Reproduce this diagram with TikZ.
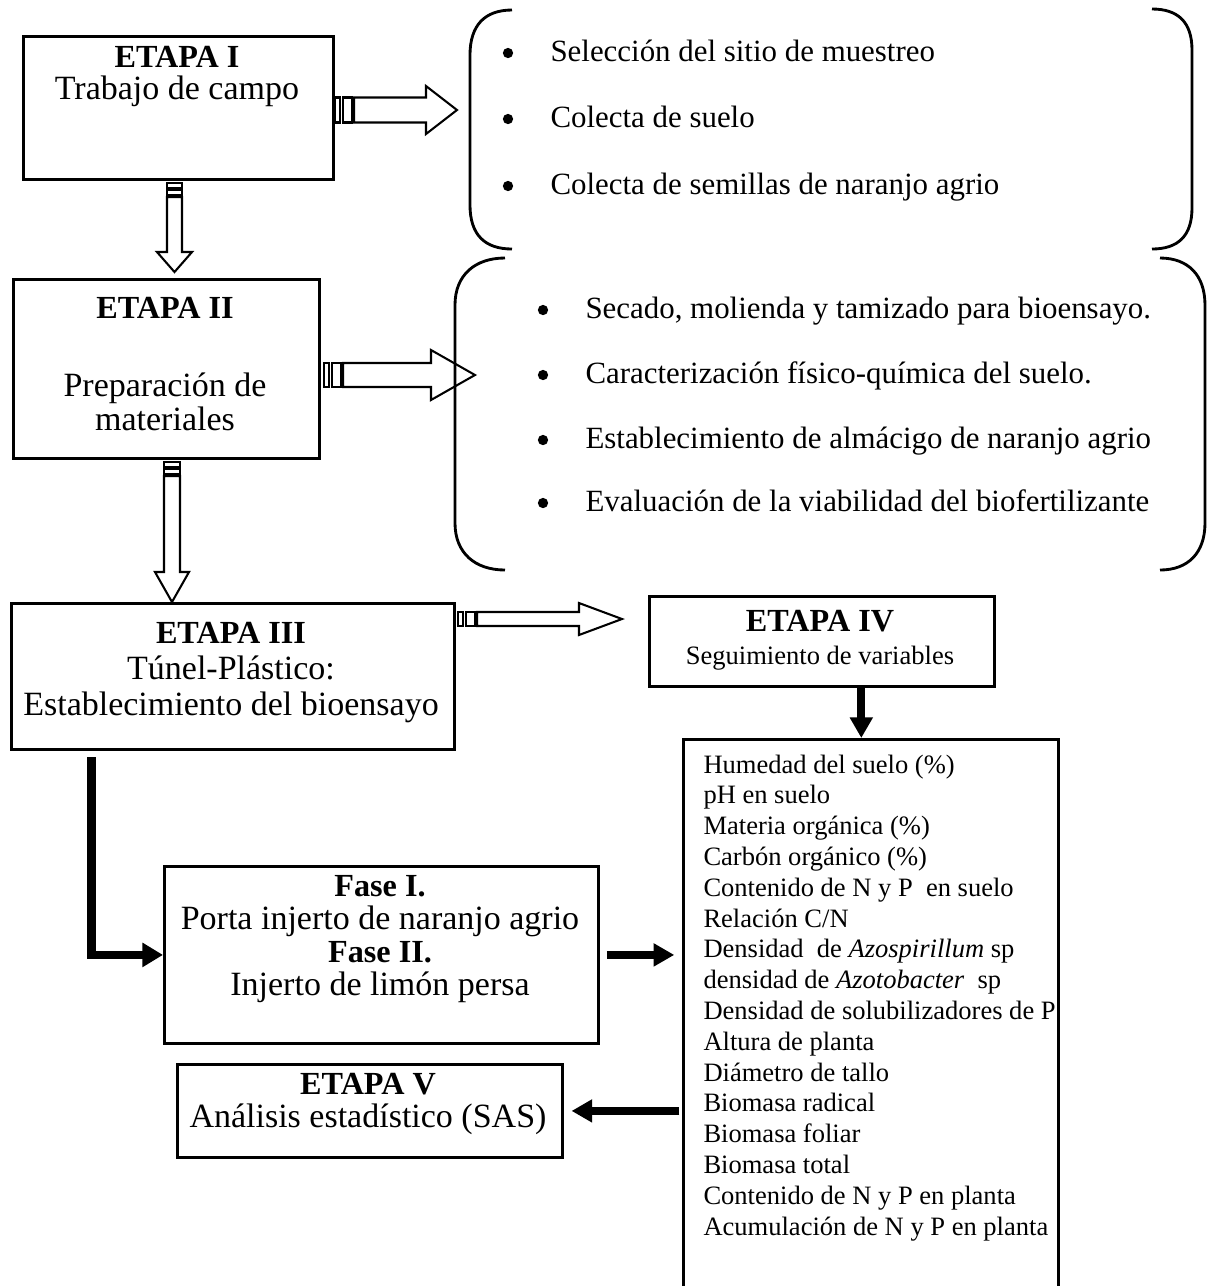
\documentclass[tikz,border=0pt]{standalone}
\usepackage{fontspec}
\setmainfont{Liberation Serif}
\usetikzlibrary{arrows.meta,calc}
\def\pxu{0.3883}
\tikzset{
  stage/.style={draw, line width=1.1pt, anchor=north west, inner sep=0pt},
  tx/.style={anchor=base, inner sep=0pt, font=\fontsize{13.2}{15}\selectfont},
  bx/.style={anchor=base, inner sep=0pt, font=\fontsize{12.5}{15}\selectfont\bfseries},
  itm/.style={anchor=base west, inner sep=0pt, font=\fontsize{12}{14}\selectfont},
  lst/.style={anchor=base west, inner sep=0pt, font=\fontsize{10.3}{12}\selectfont},
  dot/.style={circle, fill, inner sep=0pt, minimum size=4pt},
  hol/.style={draw, line width=0.8pt},
  brc/.style={draw, line width=1.1pt},
  blk/.style={line width=3pt, -{Triangle[length=8pt, width=8.5pt]}},
}
% hollow right arrow: x0, y, xtip, shaft half, head half, head length
\newcommand{\hright}[6]{%
  \draw[hol] (#1,#2-#4) rectangle (#1+5,#2+#4);
  \draw[hol] (#1+8,#2-#4) rectangle (#1+17,#2+#4);
  \draw[hol] (#1+19,#2-#4) -- (#3-#6,#2-#4) -- (#3-#6,#2-#5) -- (#3,#2)
     -- (#3-#6,#2+#5) -- (#3-#6,#2+#4) -- (#1+19,#2+#4) -- cycle;}
% hollow down arrow: x, y0, ytip, shaft half, head half, head length
\newcommand{\hdown}[6]{%
  \draw[hol] (#1-#4,#2) rectangle (#1+#4,#2+5);
  \draw[hol] (#1-#4,#2+7) rectangle (#1+#4,#2+12);
  \draw[hol] (#1-#4,#2+14) -- (#1-#4,#3-#6) -- (#1-#5,#3-#6) -- (#1,#3)
     -- (#1+#5,#3-#6) -- (#1+#4,#3-#6) -- (#1+#4,#2+14) -- cycle;}
\begin{document}
\begin{tikzpicture}[x=0.3883pt, y=-0.3883pt]
\useasboundingbox[fill=white] (0,0) rectangle (1209,1286);

% ---------- boxes
\node[stage, minimum width=310*\pxu pt, minimum height=143*\pxu pt] (e1) at (22,35) {};
\node[stage, minimum width=306*\pxu pt, minimum height=179*\pxu pt] (e2) at (12,278) {};
\node[stage, minimum width=443*\pxu pt, minimum height=146*\pxu pt] (e3) at (10,602) {};
\node[stage, minimum width=345*\pxu pt, minimum height=90*\pxu pt] (e4) at (648,595) {};
\node[stage, minimum width=375*\pxu pt, minimum height=560*\pxu pt] (lst) at (682,738) {};
\node[stage, minimum width=434*\pxu pt, minimum height=177*\pxu pt] (fase) at (163,865) {};
\node[stage, minimum width=385*\pxu pt, minimum height=93*\pxu pt] (e5) at (176,1063) {};

% ---------- box texts
\node[bx] (t11) at (177,67) {ETAPA I};
\node[tx] (t12) at (177,99) {Trabajo de campo};
\node[bx] (t21) at (165,318) {ETAPA II};
\node[tx] (t22) at (165,396) {Preparación de};
\node[tx] (t23) at (165,430) {materiales};
\node[bx] (t31) at (231,643) {ETAPA III};
\node[tx] (t32) at (231,679) {Túnel-Plástico:};
\node[tx] (t33) at (231,715) {Establecimiento del bioensayo};
\node[bx] (t41) at (820,631) {ETAPA IV};
\node[tx, font=\fontsize{10.3}{12}\selectfont] (t42) at (820,664) {Seguimiento de variables};
\node[bx] (f1) at (380,896) {Fase I.};
\node[tx] (f2) at (380,929) {Porta injerto de naranjo agrio};
\node[bx] (f3) at (380,962) {Fase II.};
\node[tx] (f4) at (380,995) {Injerto de limón persa};
\node[bx] (t51) at (368,1094) {ETAPA V};
\node[tx] (t52) at (368,1127) {Análisis estadístico (SAS)};

% ---------- variable list
\foreach \s [count=\i] in {%
  Humedad del suelo (\%),
  pH en suelo,
  Materia orgánica (\%),
  Carbón orgánico (\%),
  Contenido de N y P\ \ en suelo,
  Relación C/N,
  Densidad\ \ de \textit{Azospirillum} sp,
  densidad de \textit{Azotobacter}\ \ sp,
  Densidad de solubilizadores de P,
  Altura de planta,
  Diámetro de tallo,
  Biomasa radical,
  Biomasa foliar,
  Biomasa total,
  Contenido de N y P en planta,
  Acumulación de N y P en planta}
  \node[lst] (v\i) at (703,{773+(\i-1)*30.8}) {\s};

% ---------- brace 1
\draw[brc] (512,10) .. controls (485,10) and (470,25) .. (470,55) -- (470,205)
   .. controls (470,235) and (485,249) .. (512,249);
\draw[brc] (1152,9) .. controls (1178,9) and (1192,22) .. (1192,50) -- (1192,208)
   .. controls (1192,236) and (1178,249) .. (1152,249);
\node[dot] (d1) at (508,53) {};
\node[dot] (d2) at (508,119) {};
\node[dot] (d3) at (508,186) {};
\node[itm] (b1) at (550,61) {Selección del sitio de muestreo};
\node[itm] (b2) at (550,127) {Colecta de suelo};
\node[itm] (b3) at (550,194) {Colecta de semillas de naranjo agrio};

% ---------- brace 2
\draw[brc] (505,258) .. controls (475,258) and (455,275) .. (455,305) -- (455,523)
   .. controls (455,553) and (475,570) .. (505,570);
\draw[brc] (1160,258) .. controls (1188,258) and (1205,275) .. (1205,305) -- (1205,523)
   .. controls (1205,553) and (1188,570) .. (1160,570);
\node[dot] (d4) at (543,310) {};
\node[dot] (d5) at (543,375) {};
\node[dot] (d6) at (543,440) {};
\node[dot] (d7) at (543,503) {};
\node[itm] (c1) at (585,318) {Secado, molienda y tamizado para bioensayo.};
\node[itm] (c2) at (585,383) {Caracterización físico-química del suelo.};
\node[itm] (c3) at (585,448) {Establecimiento de almácigo de naranjo agrio};
\node[itm] (c4) at (585,511) {Evaluación de la viabilidad del biofertilizante};

% ---------- hollow arrows
\hright{335}{110}{457}{12.5}{24}{31}
\hright{324}{375}{475}{12}{25}{44}
\hright{458}{619}{622}{7}{16}{43}
\hdown{174.5}{183}{272}{7.5}{17.5}{20}
\hdown{172}{462}{602}{8}{17}{30}

% ---------- black arrows
\coordinate (el) at (91.5,757);
\coordinate (fe) at (fase.east);
\coordinate (e5e) at (e5.east);
\coordinate (e4s) at ([xshift=15.3pt]e4.south);
\draw[line width=3.4pt, -{Triangle[length=8pt, width=9pt]}] (el) |- (fase.west);
\draw[blk] (e4s) -- (e4s |- lst.north);
\draw[blk, shorten <=2.7pt, shorten >=3pt] (fe) -- (fe -| lst.west);
\draw[blk, shorten <=1pt, shorten >=3pt] (lst.west |- e5e) -- (e5e);
\end{tikzpicture}
\end{document}
